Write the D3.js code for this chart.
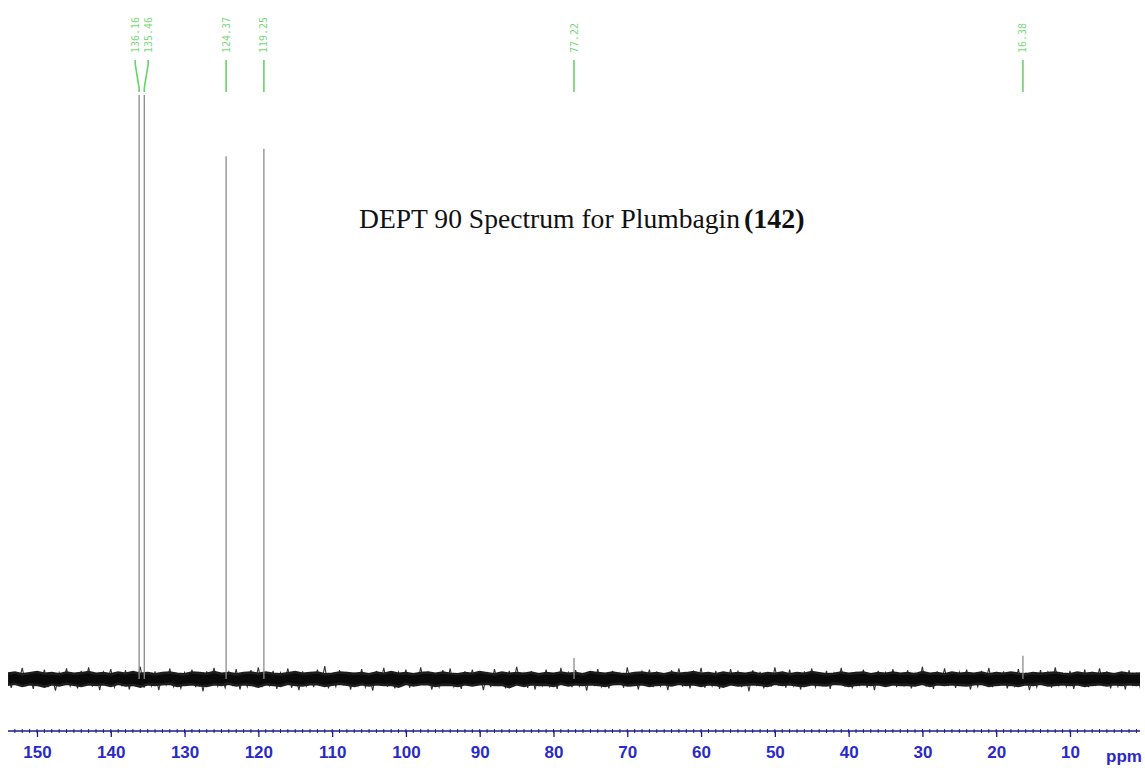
<!DOCTYPE html>
<html lang="en">
<head>
    <meta charset="UTF-8">
    <title>DEPT 90 Plumbagin</title>
    <script src="https://cdn.jsdelivr.net/npm/d3@7/dist/d3.min.js"></script>
    <style>
        html, body {
            margin: 0;
            padding: 0;
            background: #fff;
        }
        #chart {
            width: 1145px;
            height: 768px;
        }
        .peakLabel {
            font-family: "DejaVu Sans Mono", monospace;
            font-size: 10px;
            fill: #7ad87a;
        }
        .axis text {
            font-family: "Liberation Sans", Arial, sans-serif;
            font-size: 17px;
            font-weight: bold;
            fill: #2a2ac8;
        }
    </style>
</head>
<body>
<div id="chart"></div>

<script>
    // peaks (ppm) and their heights (arbitrary intensity)
    var peakPpm = [136.16, 135.46, 124.37, 119.25, 77.22, 16.38];
    var peakHeight = [100, 100, 89.5, 90.8, 3.6, 4.0];
    var peakLabels = ["136.16", "135.46", "124.37", "119.25", "77.22", "16.38"];
    var labelledPeaks = [0, 1, 2, 3, 4, 5];

    var axisTicks = [150, 140, 130, 120, 110, 100, 90, 80, 70, 60, 50, 40, 30, 20, 10];

    // dense core of the baseline noise, one value per ppm from 154 down to 0
    var coreTop = [
        0.9,1.1,0.8,1.0,1.2,0.9,1.0,0.8,1.1,0.9,
        1.0,1.2,0.9,1.0,0.8,1.1,0.9,1.2,0.9,1.0,
        0.8,1.0,1.1,0.9,0.8,1.1,1.0,0.9,1.2,0.9,
        1.0,0.8,1.0,1.1,0.9,1.1,0.9,0.8,1.0,1.2,
        0.9,1.0,1.1,0.8,0.9,1.1,1.0,0.9,1.0,0.8,
        1.1,0.9,1.2,0.9,1.0,0.8,1.0,1.1,0.9,1.1,
        0.9,0.8,1.0,0.9,1.2,1.0,0.8,1.1,0.9,1.0,
        0.9,1.1,0.8,1.0,0.9,1.1,0.9,1.0,0.8,1.2,
        1.0,0.9,1.1,0.9,0.8,1.0,1.1,0.9,1.0,0.8,
        1.1,0.9,1.0,1.2,0.9,1.0,0.8,1.1,0.9,1.0,
        0.9,1.1,0.8,1.0,0.9,1.1,0.8,1.0,0.9,1.2,
        1.0,0.8,0.9,1.1,0.9,1.0,1.1,0.8,1.0,0.9,
        1.1,0.9,1.0,0.8,1.2,0.9,1.0,0.8,1.1,0.9,
        1.0,0.9,1.1,0.8,1.0,0.9,1.1,0.9,0.8,1.0,
        0.9,1.0,1.1,0.9,0.8,1.1,0.9,1.0,0.9,1.0,
        0.8,1.1,0.9,0.9,1.0
    ];
    var coreBottom = [
        -1.0,-0.8,-1.2,-0.9,-1.0,-1.3,-0.9,-1.1,-0.8,-1.0,
        -1.2,-0.9,-1.0,-0.9,-1.2,-0.8,-1.1,-1.0,-1.3,-0.9,
        -1.0,-0.9,-0.8,-1.2,-1.0,-0.9,-1.1,-1.2,-0.9,-1.0,
        -0.8,-1.1,-0.9,-1.0,-1.3,-0.9,-1.0,-1.2,-0.8,-1.0,
        -1.1,-0.9,-0.9,-1.2,-1.0,-0.8,-1.0,-1.2,-0.9,-1.1,
        -0.9,-1.0,-1.0,-1.3,-0.8,-1.1,-0.9,-0.9,-1.2,-1.0,
        -1.0,-1.2,-0.9,-1.1,-0.9,-0.8,-1.0,-1.0,-1.4,-0.9,
        -1.2,-0.9,-1.0,-1.0,-1.2,-0.8,-1.1,-0.9,-1.0,-0.9,
        -1.0,-1.2,-0.9,-0.8,-1.1,-1.0,-0.9,-1.2,-1.0,-0.9,
        -1.1,-0.8,-1.0,-0.9,-1.2,-0.9,-1.0,-1.3,-0.9,-1.1,
        -1.0,-0.9,-1.0,-1.2,-0.8,-1.0,-0.9,-1.1,-1.2,-0.9,
        -1.0,-1.1,-0.8,-0.9,-1.2,-1.0,-0.9,-1.0,-0.9,-1.2,
        -0.9,-1.0,-1.0,-1.1,-0.8,-1.2,-0.9,-1.0,-0.9,-1.0,
        -1.1,-0.9,-0.8,-1.2,-1.0,-0.9,-1.0,-1.2,-0.9,-1.0,
        -0.8,-1.1,-1.0,-0.9,-1.0,-0.9,-1.2,-1.0,-0.9,-1.1,
        -0.9,-1.0,-0.9,-1.0,-0.9
    ];
    var corePpm = d3.range(154, -1, -1);

    // noise trace, one value per 0.5 ppm from 154 down to 0
    var noiseTrace = [
        1.2,-1.5,0.8,-0.6,1.9,-1.1,0.4,-1.7,1.3,-0.9,
        1.6,-1.4,0.7,-2.0,1.1,-0.8,1.8,-1.2,0.5,-1.6,
        1.4,-0.7,2.0,-1.3,0.9,-1.9,1.2,-0.5,1.7,-1.4,
        0.6,-1.1,1.5,-1.8,1.0,-0.7,2.1,-1.5,0.8,-1.2,
        1.3,-1.9,0.7,-1.0,1.8,-1.3,0.5,-1.6,1.1,-0.9,
        1.6,-1.4,0.9,-2.1,1.3,-0.6,1.9,-1.2,0.7,-1.5,
        1.2,-1.0,1.7,-1.8,0.6,-1.3,1.5,-0.8,2.0,-1.4,
        0.9,-1.1,1.4,-1.7,1.1,-0.6,1.8,-1.5,0.5,-1.9,
        1.3,-1.2,0.8,-1.4,1.6,-1.0,2.2,-1.6,0.7,-1.3,
        1.5,-0.9,1.2,-1.8,0.9,-1.1,1.7,-1.4,0.6,-2.0,
        1.4,-0.8,1.9,-1.3,1.0,-1.6,1.2,-0.7,1.6,-1.5,
        0.8,-1.2,2.0,-1.0,1.1,-1.8,0.7,-1.4,1.5,-0.9,
        1.8,-1.3,0.6,-1.7,1.3,-1.1,1.6,-0.8,0.9,-1.9,
        1.2,-1.4,1.7,-1.0,0.7,-1.6,1.4,-1.2,2.1,-0.7,
        1.0,-1.5,1.3,-1.8,0.8,-1.1,1.6,-1.3,0.5,-1.7,
        1.9,-0.9,1.1,-1.4,1.5,-1.2,0.8,-2.0,1.2,-1.0,
        1.7,-1.3,0.6,-1.6,1.4,-0.8,1.0,-1.5,2.0,-1.1,
        0.9,-1.8,1.3,-0.7,1.6,-1.4,1.1,-1.2,0.7,-1.9,
        1.5,-1.0,1.8,-1.3,0.8,-1.6,1.2,-0.9,1.9,-1.5,
        0.6,-1.2,1.4,-1.7,1.0,-1.1,1.7,-0.8,1.3,-1.4,
        0.9,-2.1,1.5,-1.0,1.2,-1.6,0.7,-1.3,2.0,-0.9,
        1.1,-1.5,1.6,-1.2,0.8,-1.8,1.3,-1.0,1.8,-1.4,
        0.5,-1.1,1.4,-1.7,1.0,-0.8,1.9,-1.3,0.7,-1.6,
        1.2,-1.0,1.6,-1.5,0.9,-1.9,1.4,-0.7,1.1,-1.2,
        1.7,-1.4,0.8,-1.1,1.5,-1.6,1.0,-0.9,2.1,-1.3,
        0.6,-1.7,1.3,-1.0,1.8,-1.2,0.9,-1.5,1.2,-0.8,
        1.6,-1.8,0.7,-1.3,1.4,-1.1,1.9,-1.4,1.0,-0.9,
        1.3,-1.6,0.8,-1.2,1.7,-1.0,1.1,-1.9,0.6,-1.4,
        1.5,-0.8,1.2,-1.5,2.0,-1.1,0.9,-1.3,1.4,-1.7,
        0.7,-1.0,1.6,-1.4,1.0,-1.2,1.8,-0.9,1.3,-1.6,
        0.8,-1.3,1.1,-1.8,1.5,-1.0,0.9,-1.4,1.2
    ];
    var tracePpm = d3.range(154, -0.25, -0.5);

    var W = 1145, H = 768;
    var svg = d3.select("#chart").append("svg")
        .attr("width", W)
        .attr("height", H);

    // ppm axis runs right to left
    var x = d3.scaleLinear().domain([150, 10]).range([37, 1070]);
    var y = d3.scaleLinear().domain([0, 100]).range([679, 95]);
    var axisY = 731;

    svg.append("clipPath").attr("id", "clipBand")
        .append("rect").attr("x", 8).attr("y", 0).attr("width", 1132).attr("height", H);

    var band = svg.append("g").attr("clip-path", "url(#clipBand)");

    // noise trace first (grey spikes), then the dense core
    var trace = d3.line()
        .x(function (d, i) { return x(tracePpm[i]); })
        .y(function (d) { return y(d); });
    band.append("path")
        .attr("d", trace(noiseTrace))
        .attr("fill", "none")
        .attr("stroke", "#333")
        .attr("stroke-width", 1.1);

    var core = d3.area()
        .x(function (d, i) { return x(corePpm[i]); })
        .y0(function (d, i) { return y(coreBottom[i]); })
        .y1(function (d, i) { return y(coreTop[i]); });
    band.append("path")
        .attr("d", core(corePpm))
        .attr("fill", "#0a0a0a")
        .attr("stroke", "#1e1e1e")
        .attr("stroke-width", 2.6)
        .attr("stroke-linejoin", "miter");

    // peaks
    svg.selectAll("line.peak")
        .data(peakPpm)
        .enter()
        .append("line")
        .attr("class", "peak")
        .attr("x1", function (d) { return x(d); })
        .attr("x2", function (d) { return x(d); })
        .attr("y1", y(0))
        .attr("y2", function (d, i) { return y(peakHeight[i]); })
        .attr("stroke", "#8a8a8a")
        .attr("stroke-width", 1.3);

    // peak labels (spread apart when peaks are close)
    var labelX = labelledPeaks.map(function (i) { return x(peakPpm[i]); });
    for (var k = 1; k < labelX.length; k++) {
        if (labelX[k] - labelX[k - 1] < 12) {
            var mid = (labelX[k] + labelX[k - 1]) / 2;
            labelX[k - 1] = mid - 6.5;
            labelX[k] = mid + 6.5;
        }
    }
    var lab = svg.append("g");
    labelledPeaks.forEach(function (i, k) {
        var px = x(peakPpm[i]), lx = labelX[k];
        lab.append("text")
            .attr("class", "peakLabel")
            .attr("transform", "translate(" + (lx + 3.5) + ",53) rotate(-90)")
            .text(peakLabels[i]);
        lab.append("path")
            .attr("d", "M" + lx + ",60 L" + lx + ",64 L" + px + ",88 L" + px + ",92")
            .attr("fill", "none")
            .attr("stroke", "#66d466")
            .attr("stroke-width", 1.6);
    });

    // axis
    var axisScale = x.copy().domain([x.invert(8), x.invert(1140)]).range([8, 1140]);
    var gAxis = svg.append("g")
        .attr("class", "axis")
        .attr("transform", "translate(0," + axisY + ")");
    gAxis.append("line")
        .attr("x1", 8).attr("x2", 1140)
        .attr("stroke", "#1c1c8c").attr("stroke-width", 1.5);
    var minor = d3.range(1, 154, 1);
    gAxis.selectAll("line.minor")
        .data(minor)
        .enter()
        .append("line")
        .attr("x1", function (d) { return axisScale(d); })
        .attr("x2", function (d) { return axisScale(d); })
        .attr("y1", -2)
        .attr("y2", 2)
        .attr("stroke", "#1c1c8c")
        .attr("stroke-width", 1);
    var ax = d3.axisBottom(axisScale)
        .tickValues(axisTicks)
        .tickSize(6)
        .tickPadding(9)
        .tickFormat(d3.format("d"));
    var gTicks = gAxis.append("g").call(ax);
    gTicks.select(".domain").remove();
    gTicks.selectAll(".tick line").attr("stroke", "#1c1c8c").attr("stroke-width", 1.3);
    gAxis.append("text")
        .attr("x", 1124)
        .attr("y", 31)
        .attr("text-anchor", "middle")
        .text("ppm");

    // title
    var title = svg.append("text")
        .attr("x", 359)
        .attr("y", 228)
        .attr("font-family", "'Liberation Serif', 'Times New Roman', serif")
        .attr("font-size", 27)
        .attr("fill", "#111");
    title.append("tspan")
        .attr("textLength", 381)
        .attr("lengthAdjust", "spacingAndGlyphs")
        .text("DEPT 90 Spectrum for Plumbagin");
    title.append("tspan")
        .attr("x", 744)
        .attr("font-weight", "bold")
        .attr("font-size", 28)
        .text("(142)");
</script>
</body>
</html>
